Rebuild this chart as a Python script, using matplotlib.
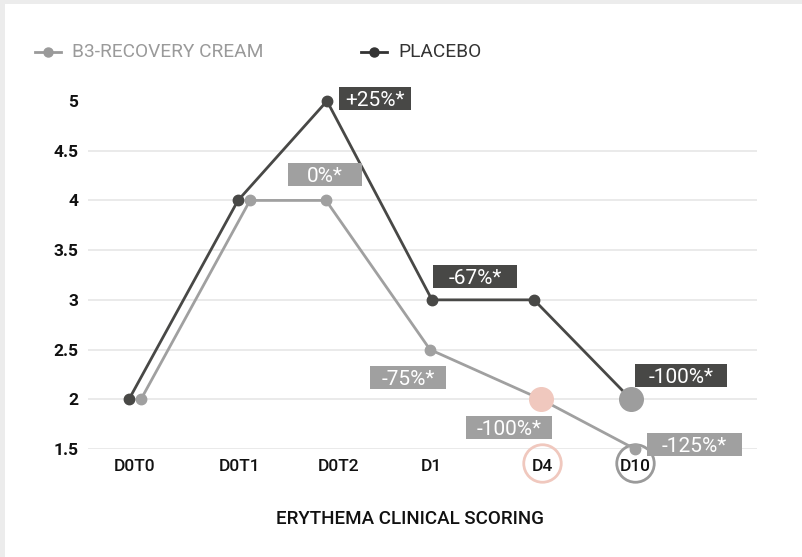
import matplotlib
matplotlib.use("Agg")
import matplotlib.pyplot as plt
import matplotlib.transforms as mtransforms
from matplotlib.patches import Rectangle

# ---------------- data ----------------
categories = ["D0T0", "D0T1", "D0T2", "D1", "D4", "D10"]
cream_values = [2, 4, 4, 2.5, 2, 1.5]
placebo_values = [2, 4, 5, 3, 3, 2]
y_ticks = [1.5, 2, 2.5, 3, 3.5, 4, 4.5, 5]
y_tick_labels = ["1.5", "2", "2.5", "3", "3.5", "4", "4.5", "5"]
series_names = ["B3-RECOVERY CREAM", "PLACEBO"]
x_title = "ERYTHEMA CLINICAL SCORING"
# percentage annotations: (category index, text)
cream_labels = [(2, "0%*"), (3, "-75%*"), (4, "-100%*"), (5, "-125%*")]
placebo_labels = [(2, "+25%*"), (3, "-67%*"), (5, "-100%*")]

# ---------------- layout / style ----------------
W, H = 802, 557
cat_x = [47, 152, 251, 343, 454, 547]           # category centres (axis units ~ px)
cream_dx = [6, 10, -13, -1, -1, 0]               # small horizontal nudges
placebo_dx = [-6, -2, -12, 1, -8, -4]
DARK = "#484846"
LIGHT = "#a0a0a0"
PINK = "#f0c8be"
GRID = "#e8e8e8"
FONT = "Roboto"

plt.rcParams["font.family"] = [FONT, "DejaVu Sans"]

fig = plt.figure(figsize=(W / 100, H / 100), dpi=100)
fig.patch.set_facecolor("#ececec")
fig.patches.append(Rectangle((5 / W, 0), 1, (H - 4) / H, transform=fig.transFigure,
                             facecolor="white", edgecolor="none", zorder=-10))

ymin, ymax = 1.5, 5.2
px_per_unit = (449 - 101) / 3.5
top_px = 449 - (ymax - ymin) * px_per_unit
ax = fig.add_axes([88 / W, (H - 449) / H, (757 - 88) / W, (449 - top_px) / H])
ax.set_zorder(1)
ax.set_facecolor("none")
ax.set_xlim(0, 757 - 88)
ax.set_ylim(ymin, ymax)
for s in ax.spines.values():
    s.set_visible(False)

# gridlines (not at top value)
for yv in y_ticks[:-1]:
    ax.axhline(yv, color=GRID, lw=1.3, zorder=1)

cx = [c + d for c, d in zip(cat_x, cream_dx)]
px = [c + d for c, d in zip(cat_x, placebo_dx)]

ax.plot(cx, cream_values, color=LIGHT, lw=2, marker="o", ms=7.5, zorder=3, clip_on=False)
ax.plot(px, placebo_values, color=DARK, lw=2, marker="o", ms=7.5, zorder=4, clip_on=False)

# highlight circles
ax.plot([cx[4]], [cream_values[4]], marker="o", ms=17, color=PINK, zorder=5, clip_on=False)
ax.plot([px[5]], [placebo_values[5]], marker="o", ms=17, color="#9d9d9d", zorder=5, clip_on=False)

# ticks
ax.set_yticks(y_ticks)
ax.set_yticklabels(y_tick_labels, fontsize=12.5, fontweight="bold", color="#111111")
ax.set_xticks(cat_x)
ax.set_xticklabels(categories, fontsize=12.5, fontweight="medium", color="#111111")
ax.tick_params(axis="both", length=0)
ax.tick_params(axis="y", pad=7)
ax.tick_params(axis="x", pad=7)

# circles around D4 / D10 tick labels
btrans = mtransforms.blended_transform_factory(ax.transData, fig.transFigure)
ring_y = (H - 463) / H
ax.plot([cat_x[4]], [ring_y], transform=btrans, marker="o", ms=27, mfc="none",
        mec=PINK, mew=2, clip_on=False)
ax.plot([cat_x[5]], [ring_y], transform=btrans, marker="o", ms=27, mfc="none",
        mec="#9a9a9a", mew=2, clip_on=False)

# annotation boxes: offset of box centre from point (px, +up), box width px
cream_box = {2: (-1, 25.5, 74), 3: (-22, -28, 76), 4: (-32, -28, 86), 5: (59.5, 4.5, 95)}
placebo_box = {2: (48, 2.5, 72), 3: (43, 23.5, 84), 5: (50, 23.5, 92)}
BOX_H = 23


def add_label(xv, yv, text, dx, dy, bw, color):
    base = mtransforms.ScaledTranslation(xv, yv, ax.transData)
    tr = mtransforms.Affine2D() + base
    rect = Rectangle((dx - bw / 2, dy - BOX_H / 2), bw, BOX_H, transform=tr,
                     facecolor=color, edgecolor="none", zorder=6, clip_on=False)
    ax.add_patch(rect)
    ax.text(dx, dy, text, transform=tr, ha="center", va="center_baseline", color="white",
            fontsize=15, zorder=7, clip_on=False)


for i, t in cream_labels:
    dx, dy, bw = cream_box[i]
    add_label(cx[i], cream_values[i], t, dx, dy, bw, LIGHT)
for i, t in placebo_labels:
    dx, dy, bw = placebo_box[i]
    add_label(px[i], placebo_values[i], t, dx, dy, bw, DARK)


# legend (manual)
def legend_item(x0, name, color):
    y = (H - 52) / H
    fig.lines.append(plt.Line2D([x0 / W, (x0 + 26) / W], [y, y], transform=fig.transFigure,
                                color=color, lw=2))
    fig.lines.append(plt.Line2D([(x0 + 13) / W], [y], transform=fig.transFigure,
                                color=color, marker="o", ms=6.5))
    fig.text((x0 + 37) / W, y, name, ha="left", va="center", color=color, fontsize=13.8)


legend_item(35, series_names[0], "#9a9a9a")
legend_item(361, series_names[1], "#333333")

fig.text(410 / W, (H - 519) / H, x_title, ha="center", va="center", fontsize=13.5,
         fontweight="medium", color="#111111")

fig.savefig("out.png", dpi=100, facecolor=fig.get_facecolor())
